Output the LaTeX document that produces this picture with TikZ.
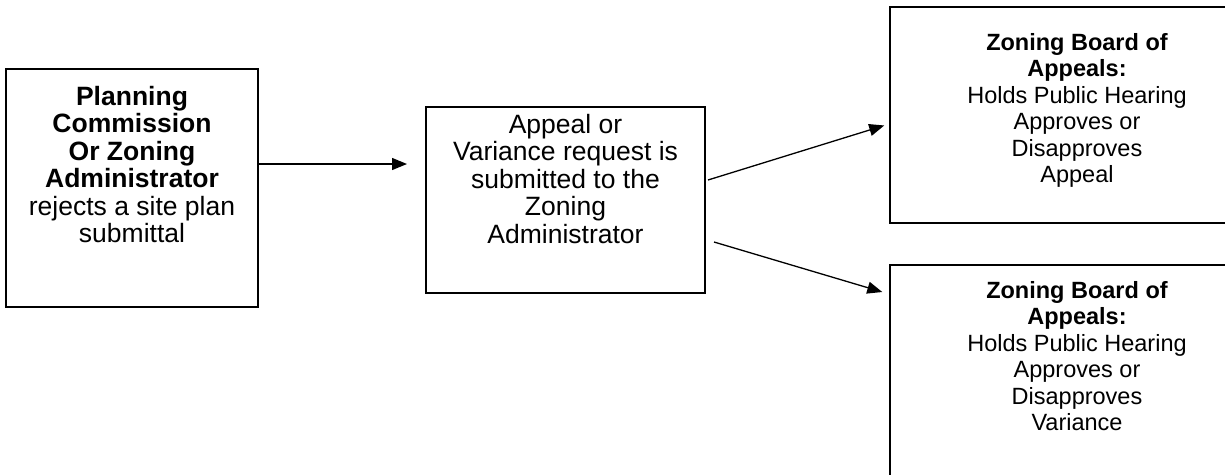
\documentclass[tikz,border=0pt]{standalone}
\usepackage{fontspec}
\setmainfont{Liberation Sans}
\usetikzlibrary{positioning, arrows.meta}

% text of a box: width, height, space above the first line, lines
\newcommand{\boxbody}[4]{%
  \parbox[c][#2][t]{#1}{\centering\vspace*{#3}#4}}

\begin{document}
\begin{tikzpicture}[x=1pt, y=-1pt,
    stage/.style={draw, line width=2pt, inner sep=0pt,
      font=\fontsize{26.5}{27.5}\selectfont},
    board/.style={stage, font=\fontsize{23.5}{26.5}\selectfont},
    flow/.style={-{Triangle[length=15pt, width=12pt]}, line width=1.3pt}]
        \clip (0,0) rectangle (1225,474);

        \node[stage] (plan) at (132,188) {
          \boxbody{252pt}{238pt}{17pt}{%
            \textbf{Planning}\\
            \textbf{Commission}\\
            \textbf{Or Zoning}\\
            \textbf{Administrator}\\
            rejects a site plan\\
            submittal}
        } ;

        \node[stage] (request) at (565.5,200) {
          \boxbody{279pt}{186pt}{7pt}{%
            Appeal or\\
            Variance request is\\
            submitted to the\\
            Zoning\\
            Administrator}
        } ;

        \node[board] (appeal) at (1077,115) {
          \boxbody{374pt}{216pt}{26pt}{%
            \textbf{Zoning Board of}\\
            \textbf{Appeals:}\\
            Holds Public Hearing\\
            Approves or\\
            Disapproves\\
            Appeal}
        } ;

        \node[board, below=40pt of appeal] (variance) {
          \boxbody{374pt}{227pt}{16pt}{%
            \textbf{Zoning Board of}\\
            \textbf{Appeals:}\\
            Holds Public Hearing\\
            Approves or\\
            Disapproves\\
            Variance}
        } ;

        \draw[flow, shorten >=18pt] ([yshift=24pt]plan.east)
          -- ([yshift=36pt]request.west) ;
        \draw[flow, shorten >=5pt] ([xshift=2pt, yshift=20pt]request.east)
          -- ([yshift=-9pt]appeal.west) ;
        \draw[flow, shorten >=7pt] ([xshift=8pt, yshift=-42pt]request.east)
          -- ([yshift=84.5pt]variance.west) ;
      \end{tikzpicture}
\end{document}
